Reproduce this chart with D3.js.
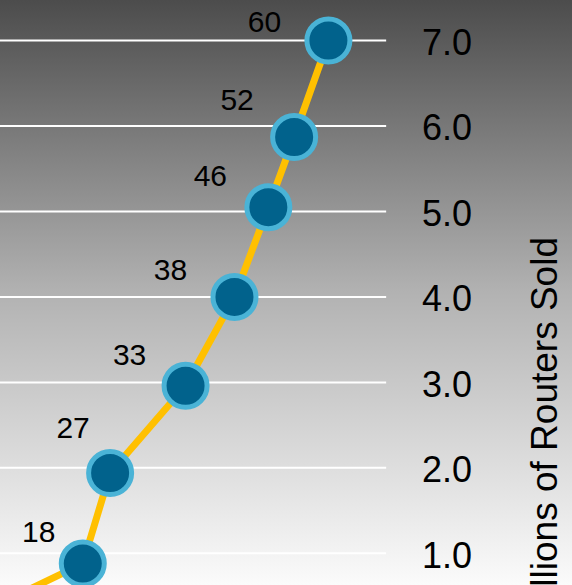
<!DOCTYPE html>
<html>
<head>
<meta charset="utf-8">
<script src="https://cdn.jsdelivr.net/npm/d3@7"></script>
<style>
  html, body { margin: 0; padding: 0; overflow: hidden; }
  svg { display: block; }
</style>
</head>
<body>
<svg id="chart" width="572" height="585"></svg>
<script>
// ---- data ----
const xValues   = [-5.2, 21.5, 28.6, 48.2, 60.9, 69.7, 76.4, 85.3];
const unitsSold = [0.3, 0.88, 1.94, 2.96, 4.0, 5.05, 5.87, 7.0];   // millions
const pointLabels = [null, "18", "27", "33", "38", "46", "52", "60"];
const yTicks = [1, 2, 3, 4, 5, 6, 7];
const yTitle = "Millions of Routers Sold";
// label nudges (annotation placement, relative to each point)
const labelDx = [0, -44, -37, -56, -64, -58, -57, -64];
const labelDy = [0, -22, -35, -21, -17, -21, -27, -9];

const W = 572, H = 585;
const svg = d3.select("#chart");

// background gradient
const defs = svg.append("defs");
const grad = defs.append("linearGradient").attr("id", "bg")
  .attr("x1", 0).attr("y1", 0).attr("x2", 0).attr("y2", 1);
grad.append("stop").attr("offset", "0%").attr("stop-color", "#4c4c4c");
grad.append("stop").attr("offset", "50%").attr("stop-color", "#b2b2b2");
grad.append("stop").attr("offset", "100%").attr("stop-color", "#fbfbfb");
svg.append("rect").attr("width", W).attr("height", H).attr("fill", "url(#bg)");

const x = d3.scaleLinear().domain([0, 100]).range([0, 385]);
const y = d3.scaleLinear().domain([0, 7]).range([638.8, 40.5]);

// gridlines
svg.append("g").selectAll("line").data(yTicks).join("line")
  .attr("x1", x(0)).attr("x2", x(100.3))
  .attr("y1", d => y(d)).attr("y2", d => y(d))
  .attr("stroke", "#ffffff").attr("stroke-width", 2);

// right axis labels
const yAxis = d3.axisRight(y).tickValues(yTicks).tickFormat(d3.format(".1f"))
  .tickSize(0).tickPadding(0);
const gAxis = svg.append("g").attr("transform", "translate(422,0)").call(yAxis);
gAxis.select(".domain").remove();
gAxis.selectAll("text")
  .attr("font-family", "'Liberation Sans', Arial, Helvetica, sans-serif")
  .attr("font-size", 36).attr("fill", "#000")
  .attr("dy", "0.38em").attr("text-anchor", "start");

// axis title
svg.append("text")
  .attr("transform", "translate(557,237) rotate(-90)")
  .attr("text-anchor", "end")
  .attr("font-family", "'Liberation Sans', Arial, Helvetica, sans-serif")
  .attr("font-size", 37).attr("fill", "#000")
  .text(yTitle);

const pts = xValues.map((v, i) => ({ x: v, y: unitsSold[i], label: pointLabels[i], dx: labelDx[i], dy: labelDy[i] }));

// line
const line = d3.line().x(d => x(d.x)).y(d => y(d.y));
svg.append("path").datum(pts)
  .attr("d", line)
  .attr("fill", "none")
  .attr("stroke", "#ffc000")
  .attr("stroke-width", 7)
  .attr("stroke-linejoin", "round");

// points
svg.append("g").selectAll("circle").data(pts).join("circle")
  .attr("cx", d => x(d.x)).attr("cy", d => y(d.y))
  .attr("r", 21.5)
  .attr("fill", "#01628c")
  .attr("stroke", "#4ab3d6")
  .attr("stroke-width", 5);

// labels
svg.append("g").selectAll("text").data(pts.filter(d => d.label)).join("text")
  .attr("x", d => x(d.x) + d.dx).attr("y", d => y(d.y) + d.dy)
  .attr("text-anchor", "middle")
  .attr("font-family", "'Liberation Sans', Arial, Helvetica, sans-serif")
  .attr("font-size", 30).attr("fill", "#000")
  .text(d => d.label);
</script>
</body>
</html>
